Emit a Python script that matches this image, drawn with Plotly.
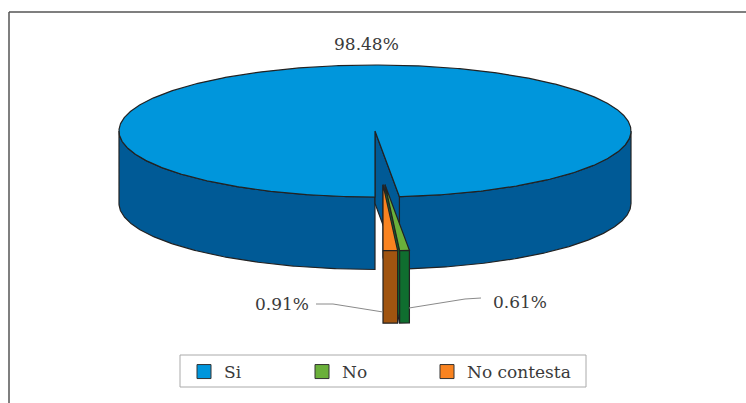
import numpy as np
import plotly.graph_objects as go

categories = ["Si", "No", "No contesta"]
values = [98.48, 0.61, 0.91]
value_labels = ["98.48%", "0.61%", "0.91%"]

top_colors = {"Si": "#0096DC", "No": "#6AB03A", "No contesta": "#F98320"}
side_colors = {"Si": "#005A96", "No": "#0F6E2F", "No contesta": "#A05410"}
EDGE = "#222222"
CX, CY, RX, RY, DEPTH = 375, 131, 256, 66, 72.5
offsets = {"Si": (0, 0), "No": (10, 53.7), "No contesta": (8, 53.7)}
FONT = "DejaVu Serif"
TEXT = "#3a3a3a"
legend_widths = {"Si": 73, "No": 80, "No contesta": 125}

total = sum(values)
sweep = {c: 360 * v / total for c, v in zip(categories, values)}
# clockwise from the bottom of the ellipse, towards the right: No contesta, No, then Si
a0 = 0.0
a1 = a0 + sweep["No contesta"]
a2 = a1 + sweep["No"]
spans = {"No contesta": (a0, a1), "No": (a1, a2), "Si": (a2, 360.0)}


def arc(cat, start, end, dy=0):
    dx0, dy0 = offsets[cat]
    t = np.radians(np.linspace(start, end, max(3, int(abs(end - start) * 2))))
    return CX + dx0 + RX * np.sin(t), CY + dy0 + dy + RY * np.cos(t)


def centre(cat, dy=0):
    dx0, dy0 = offsets[cat]
    return CX + dx0, CY + dy0 + dy


fig = go.Figure()


def poly(xs, ys, color):
    fig.add_trace(go.Scatter(
        x=list(xs) + [xs[0]], y=list(ys) + [ys[0]], mode="lines", fill="toself",
        fillcolor=color, line=dict(color=EDGE, width=1.2), showlegend=False, hoverinfo="skip"))


def side(cat, start, end):
    x1, y1 = arc(cat, start, end)
    x2, y2 = arc(cat, end, start, DEPTH)
    poly(np.r_[x1, x2], np.r_[y1, y2], side_colors[cat])


def wall(cat, angle):
    cx, cy = centre(cat)
    ex, ey = arc(cat, angle, angle)
    poly([cx, ex[0], ex[0], cx], [cy, ey[0], ey[0] + DEPTH, cy + DEPTH], side_colors[cat])


def top(cat):
    s, e = spans[cat]
    x, y = arc(cat, s, e)
    cx, cy = centre(cat)
    poly(np.r_[cx, x], np.r_[cy, y], top_colors[cat])


# main slice
side("Si", spans["Si"][0], 90)
side("Si", 270, 360)
wall("Si", spans["Si"][0])
top("Si")
# pulled-out slices
wall("No contesta", spans["No contesta"][1])
wall("No", spans["No"][0])
top("No contesta")
side("No contesta", *spans["No contesta"])
top("No")
side("No", *spans["No"])

# leader lines
for lx, ly in (([316, 333, 383], [304, 304, 312]), ([409, 465, 481], [308, 299, 298])):
    fig.add_trace(go.Scatter(x=lx, y=ly, mode="lines", line=dict(color="#8a8a8a", width=1),
                             showlegend=False, hoverinfo="skip"))

# legend entries
for c in categories:
    fig.add_trace(go.Scatter(
        x=[None], y=[None], mode="markers", name=c, legendwidth=legend_widths[c],
        marker=dict(symbol="square", size=14, color=top_colors[c],
                    line=dict(color="#333333", width=1))))

label_pos = {"Si": (366, 44), "No": (520, 302), "No contesta": (282, 304)}
annotations = [
    dict(x=label_pos[c][0], y=label_pos[c][1], text=t, showarrow=False, xref="x", yref="y",
         font=dict(family=FONT, size=17, color=TEXT))
    for c, t in zip(categories, value_labels)
]

fig.update_layout(
    width=746, height=403, margin=dict(l=0, r=0, t=0, b=0),
    paper_bgcolor="white", plot_bgcolor="white", hovermode=False,
    xaxis=dict(range=[0, 746], visible=False, fixedrange=True),
    yaxis=dict(range=[403, 0], visible=False, fixedrange=True),
    annotations=annotations,
    shapes=[
        dict(type="line", xref="x", yref="y", x0=9, y0=12, x1=746, y1=12, line=dict(color="#555555", width=1.5)),
        dict(type="line", xref="x", yref="y", x0=9, y0=12, x1=9, y1=403, line=dict(color="#555555", width=1.5)),
        dict(type="rect", xref="x", yref="y", x0=180, y0=355, x1=586, y1=387, line=dict(color="#aaaaaa", width=1)),
    ],
    legend=dict(
        orientation="h", x=184 / 746, y=1 - 354 / 403, xanchor="left", yanchor="top",
        bgcolor="rgba(0,0,0,0)", borderwidth=0,
        entrywidthmode="pixels", itemclick=False, itemdoubleclick=False,
        font=dict(family=FONT, size=17, color=TEXT), traceorder="normal"),
)

fig.write_html("out.html", config={"displayModeBar": False},
               post_script="document.body.style.margin='0';")
